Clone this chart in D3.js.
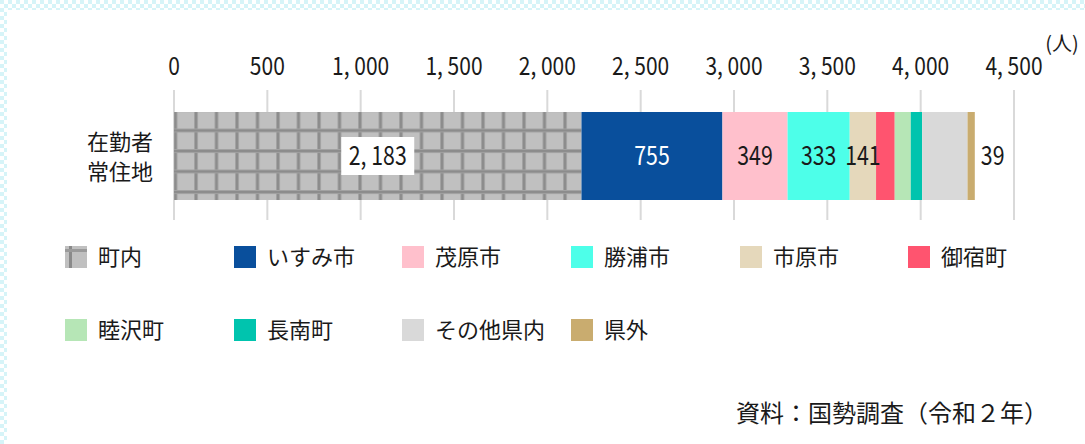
<!DOCTYPE html>
<html>
<head>
<meta charset="utf-8">
<script src="https://cdn.jsdelivr.net/npm/d3@7"></script>
<style>
  html, body { margin: 0; padding: 0; background: #fff; }
  svg { display: block; }
  text { font-family: "Noto Sans CJK JP", "Noto Sans", sans-serif; fill: #1a1a1a; }
</style>
</head>
<body>
<svg id="chart" width="1085" height="444"></svg>
<script>
// Commuters living in the town: where they work (people)
const rowLabel = ["在勤者", "常住地"];
const categories = ["町内", "いすみ市", "茂原市", "勝浦市", "市原市", "御宿町", "睦沢町", "長南町", "その他県内", "県外"];
const values = [2183, 755, 349, 333, 141, 100, 86, 61, 243, 39];
const colors = ["#c0c0c0", "#094f9c", "#ffc0cc", "#4dffe9", "#e5d8bb", "#ff546f", "#b6e6b6", "#00c4ae", "#d9d9d9", "#c9ac6f"];
// which segments carry a value label, and how
const labelMode = ["boxed", "white", "dark", "dark", "dark", "none", "none", "none", "none", "outside"];
const tickValues = [0, 500, 1000, 1500, 2000, 2500, 3000, 3500, 4000, 4500];
const unitLabel = "(人)";
const sourceNote = "資料：国勢調査（令和２年）";

const svg = d3.select("#chart");
const W = 1085, H = 444;

// ---- frame: checkered border around white panel
const defs = svg.append("defs");
const chk = defs.append("pattern").attr("id", "checker")
  .attr("patternUnits", "userSpaceOnUse").attr("width", 8).attr("height", 8);
chk.append("rect").attr("width", 8).attr("height", 8).attr("fill", "#ffffff");
chk.append("rect").attr("width", 4).attr("height", 4).attr("fill", "#d6f4f8");
chk.append("rect").attr("x", 4).attr("y", 4).attr("width", 4).attr("height", 4).attr("fill", "#d6f4f8");
svg.append("rect").attr("width", W).attr("height", H).attr("fill", "url(#checker)");
svg.append("rect").attr("x", 7).attr("y", 10).attr("width", W - 7).attr("height", H - 10).attr("fill", "#fff");

// ---- grid pattern used for 町内
const gridSize = 20.5;
const grid = defs.append("pattern").attr("id", "gridfill")
  .attr("patternUnits", "userSpaceOnUse")
  .attr("x", 194).attr("y", 128.5)
  .attr("width", gridSize).attr("height", gridSize);
grid.append("rect").attr("width", gridSize).attr("height", gridSize).attr("fill", "#c0c0c0");
grid.append("rect").attr("width", 4).attr("height", gridSize).attr("fill", "#a2a2a2");
grid.append("rect").attr("x", 1).attr("width", 2).attr("height", gridSize).attr("fill", "#8c8c8c");
grid.append("rect").attr("width", gridSize).attr("height", 4).attr("fill", "#a2a2a2");
grid.append("rect").attr("y", 1).attr("width", gridSize).attr("height", 2).attr("fill", "#8c8c8c");

// ---- scales
const x = d3.scaleLinear().domain([0, 4500]).range([174, 1014]);
const barTop = 112, barH = 88;

// gridlines
svg.append("g").selectAll("line").data(tickValues).join("line")
  .attr("x1", d => x(d)).attr("x2", d => x(d))
  .attr("y1", 90).attr("y2", 220)
  .attr("stroke", "#d9d9d9").attr("stroke-width", 2);

// tick labels (condensed numerals)
const fmt = d => d3.format(",")(d).replace(",", ", ");
svg.append("g").selectAll("g").data(tickValues).join("g")
  .attr("transform", d => `translate(${x(d)},75) scale(0.84,1)`)
  .append("text").attr("text-anchor", "middle")
  .style("font-size", "25px").text(fmt);

svg.append("text").attr("x", 1062).attr("y", 51).attr("text-anchor", "middle")
  .style("font-size", "20px").text(unitLabel);

// row label
svg.append("text").attr("text-anchor", "end").style("font-size", "22px")
  .selectAll("tspan").data(rowLabel).join("tspan")
  .attr("x", 153).attr("y", (d, i) => 150 + i * 30).text(d => d);

// ---- stacked segments
let acc = 0;
const segs = values.map((v, i) => {
  const s = { i, v, x0: acc, x1: acc + v };
  acc += v;
  return s;
});

svg.append("g").selectAll("rect").data(segs).join("rect")
  .attr("x", d => x(d.x0)).attr("y", barTop)
  .attr("width", d => x(d.x1) - x(d.x0)).attr("height", barH)
  .attr("fill", d => d.i === 0 ? "url(#gridfill)" : colors[d.i]);

// value labels
const labelY = barTop + barH / 2 + 9;
segs.forEach(s => {
  const mode = labelMode[s.i];
  if (mode === "none") return;
  const cx = (x(s.x0) + x(s.x1)) / 2;
  const txt = fmt(s.v);
  if (mode === "boxed") {
    svg.append("rect").attr("x", cx - 36.5).attr("y", 137).attr("width", 73).attr("height", 38).attr("fill", "#fff");
  }
  const px = mode === "outside" ? x(s.x1) + 6 : cx;
  svg.append("g").attr("transform", `translate(${px},${labelY}) scale(0.82,1)`)
    .append("text")
    .attr("text-anchor", mode === "outside" ? "start" : "middle")
    .style("font-size", "26px")
    .style("fill", mode === "white" ? "#ffffff" : "#1a1a1a")
    .text(txt);
});

// ---- legend
const legX = [65, 234, 402, 571, 740, 908];
const legY = [246, 319];
const leg = svg.append("g").selectAll("g").data(categories).join("g")
  .attr("transform", (d, i) => `translate(${legX[i % 6]},${legY[Math.floor(i / 6)]})`);
leg.append("rect").attr("width", 22).attr("height", 22)
  .attr("fill", (d, i) => colors[i]);
leg.filter((d, i) => i === 0).each(function () {
  const g = d3.select(this);
  g.append("rect").attr("x", 4).attr("width", 3).attr("height", 22).attr("fill", "#8a8a8a");
  g.append("rect").attr("y", 3).attr("width", 22).attr("height", 3).attr("fill", "#9a9a9a");
});
leg.append("text").attr("x", 33).attr("y", 19).style("font-size", "22px").text(d => d);

// ---- source note
svg.append("text").attr("x", 1048).attr("y", 422).attr("text-anchor", "end")
  .style("font-size", "24px").text(sourceNote);
</script>
</body>
</html>
